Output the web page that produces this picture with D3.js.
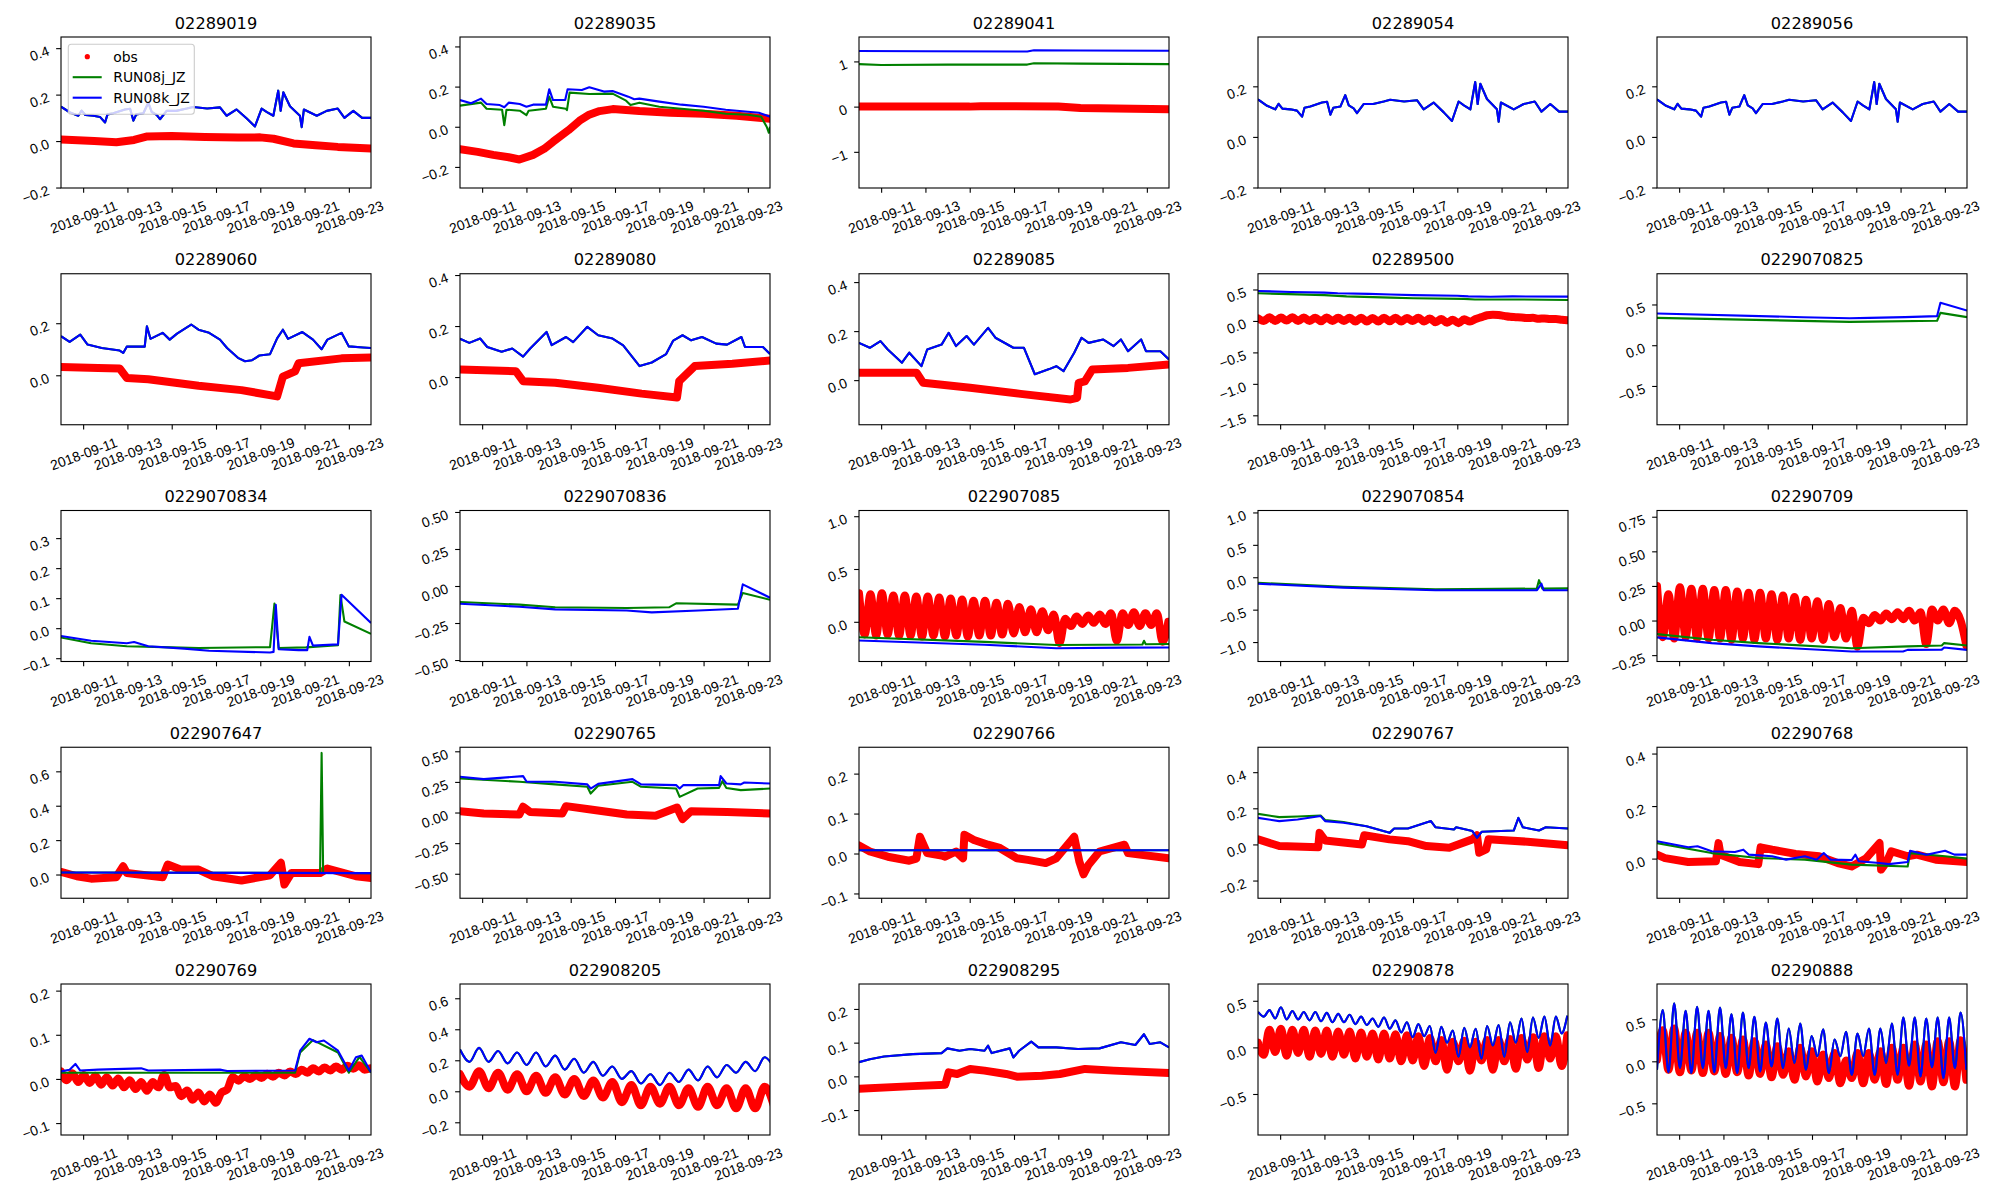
<!DOCTYPE html>
<html>
<head>
<meta charset="utf-8">
<script src="https://cdn.jsdelivr.net/npm/d3@7"></script>
<style>
  body { margin: 0; background: #fff; }
  svg { display: block; font-family: "DejaVu Sans", sans-serif; }
</style>
</head>
<body>
<svg id="chart" width="2000" height="1200"></svg>
<script>
// ── Time axis ───────────────────────────────────────────────────────
const START = Date.UTC(2018, 8, 10);   // 2018-09-10 00:00, left edge of every panel
const DAYS = 14;
const TIDE_STEP = 0.2587;              // half of a 12.42 h tide, in days
const X_TICKS = ['2018-09-11', '2018-09-13', '2018-09-15', '2018-09-17', '2018-09-19', '2018-09-21', '2018-09-23'];

// ── Panels ──────────────────────────────────────────────────────────
const STATIONS = [
  '02289019', '02289035', '02289041', '02289054', '02289056',
  '02289060', '02289080', '02289085', '02289500', '0229070825',
  '0229070834', '0229070836', '022907085', '0229070854', '02290709',
  '022907647', '02290765', '02290766', '02290767', '02290768',
  '02290769', '022908205', '022908295', '02290878', '02290888'
];

const Y_DOMAINS = [
  [-0.202, 0.448], [-0.305, 0.447], [-1.8, 1.54], [-0.202, 0.395], [-0.202, 0.395],
  [-0.19, 0.39], [-0.187, 0.405], [-0.182, 0.434], [-1.65, 0.75], [-0.976, 0.877],
  [-0.111, 0.392], [-0.51, 0.51], [-0.376, 1.054], [-1.3, 1.03], [-0.296, 0.795],
  [-0.138, 0.74], [-0.70, 0.533], [-0.112, 0.266], [-0.298, 0.538], [-0.151, 0.424],
  [-0.127, 0.215], [-0.282, 0.692], [-0.174, 0.274], [-0.94, 0.68], [-0.877, 0.92]
];

const Y_TICKS = [
  ['−0.2', '0.0', '0.2', '0.4'], ['−0.2', '0.0', '0.2', '0.4'], ['−1', '0', '1'], ['−0.2', '0.0', '0.2'], ['−0.2', '0.0', '0.2'],
  ['0.0', '0.2'], ['0.0', '0.2', '0.4'], ['0.0', '0.2', '0.4'], ['−1.5', '−1.0', '−0.5', '0.0', '0.5'], ['−0.5', '0.0', '0.5'],
  ['−0.1', '0.0', '0.1', '0.2', '0.3'], ['−0.50', '−0.25', '0.00', '0.25', '0.50'], ['0.0', '0.5', '1.0'], ['−1.0', '−0.5', '0.0', '0.5', '1.0'], ['−0.25', '0.00', '0.25', '0.50', '0.75'],
  ['0.0', '0.2', '0.4', '0.6'], ['−0.50', '−0.25', '0.00', '0.25', '0.50'], ['−0.1', '0.0', '0.1', '0.2'], ['−0.2', '0.0', '0.2', '0.4'], ['0.0', '0.2', '0.4'],
  ['−0.1', '0.0', '0.1', '0.2'], ['−0.2', '0.0', '0.2', '0.4', '0.6'], ['−0.1', '0.0', '0.1', '0.2'], ['−0.5', '0.0', '0.5'], ['−0.5', '0.0', '0.5']
];

const SERIES_NAMES = ['obs', 'RUN08j_JZ', 'RUN08k_JZ'];
const SERIES_COLORS = ['#ff0000', '#008000', '#0000ff'];

// tidal records are read as alternating highs and lows, one every `step` days
function tide(step, vals) {
  const pts = vals.map((v, i) => [i * step, v]);
  pts.smooth = true;
  return pts;
}

// ── Series: [day since 09-10, value] ────────────────────────────────
// row 1
const OBS_02289019 = [[0,0.007],[1.5,0.0],[2.5,-0.005],[3.3,0.005],[3.9,0.02],[5,0.022],[6.5,0.018],[8,0.015],[9,0.016],[9.6,0.01],[10.5,-0.01],[11.5,-0.018],[12.5,-0.025],[14,-0.032]];
const K_02289019 = [[0,0.148],[0.41,0.123],[0.78,0.109],[0.93,0.131],[1.1,0.112],[1.46,0.109],[1.76,0.104],[1.99,0.08],[2.1,0.115],[2.36,0.12],[2.89,0.136],[3.12,0.139],[3.27,0.088],[3.4,0.115],[3.72,0.12],[3.94,0.165],[4.1,0.125],[4.32,0.113],[4.47,0.094],[4.77,0.13],[5.2,0.13],[5.68,0.14],[5.97,0.147],[6.6,0.14],[7.18,0.145],[7.48,0.109],[7.93,0.136],[8.39,0.097],[8.76,0.063],[9.06,0.14],[9.3,0.125],[9.59,0.109],[9.81,0.217],[9.92,0.13],[10.04,0.21],[10.34,0.15],[10.79,0.109],[10.87,0.06],[10.97,0.136],[11.55,0.109],[12,0.13],[12.5,0.14],[12.8,0.1],[13.2,0.13],[13.6,0.1],[14,0.1]];
const J_02289019 = K_02289019;   // the two runs overlap here

const OBS_02289035 = [[0,-0.112],[0.8,-0.125],[1.5,-0.14],[2.2,-0.152],[2.68,-0.163],[3.3,-0.14],[3.8,-0.11],[4.2,-0.075],[4.9,-0.017],[5.4,0.03],[5.8,0.058],[6.3,0.078],[6.9,0.088],[8.1,0.078],[9.5,0.07],[11,0.065],[12.5,0.055],[14,0.04]];
const K_02289035 = [[0,0.133],[0.5,0.117],[0.95,0.14],[1.2,0.113],[1.8,0.108],[2.0,0.097],[2.2,0.12],[2.7,0.113],[3.0,0.1],[3.3,0.11],[3.88,0.11],[4.03,0.187],[4.2,0.133],[4.75,0.133],[4.86,0.187],[5.5,0.183],[5.84,0.197],[6.5,0.175],[6.89,0.178],[7.6,0.15],[7.87,0.137],[8.1,0.14],[9,0.125],[10,0.11],[11,0.1],[12,0.085],[12.5,0.08],[13,0.075],[13.5,0.07],[14,0.05]];
const J_02289035 = [[0,0.105],[0.95,0.12],[1.2,0.09],[1.9,0.085],[2.0,0.008],[2.1,0.085],[2.7,0.08],[3.0,0.058],[3.1,0.08],[3.88,0.09],[4.03,0.15],[4.2,0.1],[4.78,0.09],[4.83,0.083],[4.95,0.17],[5.84,0.163],[6.89,0.165],[7.5,0.13],[7.7,0.108],[8.1,0.12],[9,0.1],[10,0.09],[11,0.08],[12,0.065],[13,0.06],[13.6,0.05],[13.85,0.0],[13.95,-0.03],[14,0.0]];

const OBS_02289041 = [[0,0.0],[5,0.0],[5.5,0.01],[9,0.005],[10,-0.03],[14,-0.06]];
const K_02289041 = [[0,1.23],[3,1.225],[7.6,1.22],[7.9,1.245],[10,1.24],[14,1.235]];
const J_02289041 = [[0,0.94],[1,0.92],[4,0.93],[7.6,0.93],[7.9,0.96],[10,0.95],[14,0.94]];

const K_02289054 = K_02289019;   // reads the same as 02289019
const K_02289056 = K_02289019;

// row 2
const OBS_02289060 = [[0,0.032],[1.68,0.028],[2.65,0.026],[2.97,-0.01],[3.94,-0.015],[6.21,-0.04],[8.15,-0.057],[9.76,-0.081],[10.02,-0.005],[10.57,0.015],[10.73,0.046],[12.67,0.065],[14,0.068]];
const K_02289060 = [[0,0.15],[0.39,0.128],[0.87,0.156],[1.2,0.118],[1.84,0.105],[2.65,0.095],[2.81,0.086],[2.97,0.11],[3.78,0.11],[3.88,0.188],[4.04,0.14],[4.59,0.163],[4.91,0.137],[5.24,0.16],[5.88,0.195],[6.21,0.175],[6.69,0.163],[7.18,0.137],[7.5,0.105],[7.99,0.067],[8.31,0.054],[8.63,0.058],[8.96,0.076],[9.44,0.081],[9.76,0.142],[10.02,0.175],[10.25,0.14],[10.9,0.166],[11.38,0.137],[11.77,0.1],[12.03,0.137],[12.67,0.163],[13.0,0.111],[13.64,0.107],[14,0.105]];

const OBS_02289080 = [[0,0.03],[2.52,0.023],[2.85,-0.016],[4.3,-0.022],[6.24,-0.042],[8.2,-0.065],[9.8,-0.08],[9.9,-0.016],[10.6,0.043],[12.3,0.052],[14,0.065]];
const K_02289080 = [[0,0.15],[0.42,0.134],[0.91,0.151],[1.23,0.118],[1.88,0.099],[2.36,0.112],[2.85,0.08],[3.17,0.112],[3.91,0.177],[4.14,0.125],[4.79,0.157],[5.11,0.137],[5.75,0.197],[6.24,0.164],[6.89,0.151],[7.37,0.124],[8.11,0.043],[8.66,0.057],[9.31,0.09],[9.63,0.143],[10.05,0.164],[10.44,0.144],[10.93,0.157],[11.57,0.131],[12.06,0.127],[12.71,0.157],[12.87,0.118],[13.68,0.118],[14,0.09]];

const OBS_02289085 = [[0,0.03],[2.6,0.03],[2.9,-0.011],[5.02,-0.031],[7.3,-0.056],[9.55,-0.079],[9.85,-0.072],[9.92,-0.011],[10.2,-0.005],[10.53,0.043],[12.15,0.05],[14,0.064]];
const K_02289085 = [[0,0.152],[0.49,0.132],[0.97,0.159],[1.3,0.125],[1.94,0.071],[2.27,0.112],[2.82,0.057],[3.08,0.125],[3.73,0.145],[4.05,0.193],[4.38,0.139],[4.86,0.18],[5.19,0.145],[5.83,0.213],[6.16,0.173],[6.97,0.132],[7.45,0.132],[7.94,0.024],[8.59,0.045],[8.91,0.057],[9.24,0.037],[9.72,0.112],[10.05,0.173],[10.37,0.152],[11.02,0.166],[11.5,0.139],[11.83,0.166],[12.15,0.118],[12.74,0.166],[12.96,0.118],[13.61,0.118],[14,0.084]];

const OBS_02289500 = tide(TIDE_STEP, [0.04,0.0,0.06,0.0,0.055,0.005,0.06,0.0,0.055,0.0,0.05,-0.005,0.055,0.0,0.05,0.0,0.05,-0.01,0.05,-0.01,0.045,-0.01,0.05,-0.005,0.05,-0.01,0.045,0.0,0.05,-0.01,0.04,-0.02,0.03,-0.03,0.02,-0.035,0.025,-0.01,0.03,0.06,0.09,0.1,0.095,0.08,0.065,0.06,0.055,0.045,0.05,0.035,0.04,0.03,0.03,0.02,0.01]);
const K_02289500 = [[0,0.476],[1.5,0.46],[3,0.45],[3.6,0.44],[5,0.43],[6,0.42],[7,0.41],[9,0.4],[9.5,0.39],[10.5,0.385],[11.5,0.39],[14,0.387]];
const J_02289500 = [[0,0.44],[3,0.41],[4,0.39],[6,0.37],[7,0.36],[9.3,0.35],[9.8,0.34],[12,0.34],[14,0.333]];

const K_0229070825 = [[0,0.389],[6.6,0.344],[8.7,0.33],[9.6,0.335],[11.2,0.345],[12.65,0.357],[12.8,0.52],[14,0.425]];
const J_0229070825 = [[0,0.336],[8.7,0.287],[9.6,0.29],[12.65,0.30],[12.8,0.397],[14,0.344]];

// row 3
const K_0229070834 = [[0,-0.026],[1.36,-0.042],[2.97,-0.05],[3.3,-0.046],[3.94,-0.06],[5.56,-0.068],[6.69,-0.075],[9.44,-0.081],[9.6,-0.079],[9.7,0.078],[9.83,-0.07],[10.73,-0.073],[11.12,-0.073],[11.22,-0.029],[11.38,-0.058],[12.51,-0.054],[12.67,0.111],[14,0.017]];
const J_0229070834 = [[0,-0.031],[1.36,-0.05],[2.97,-0.06],[4.59,-0.063],[6.21,-0.066],[9.44,-0.063],[9.64,0.082],[9.83,-0.066],[11.06,-0.064],[12.51,-0.057],[12.62,0.11],[12.8,0.022],[14,-0.019]];

const K_0229070836 = [[0,-0.12],[2.68,-0.14],[4.3,-0.158],[7.53,-0.166],[8.66,-0.178],[10.77,-0.166],[12.55,-0.154],[12.77,0.011],[14,-0.079]];
const J_0229070836 = [[0,-0.108],[2.68,-0.126],[4.3,-0.144],[7.53,-0.149],[9.44,-0.144],[9.76,-0.117],[12.55,-0.126],[12.77,-0.047],[14,-0.093]];

const OBS_022907085 = tide(TIDE_STEP, [0.27,-0.12,0.26,-0.13,0.27,-0.12,0.25,-0.13,0.25,-0.13,0.24,-0.14,0.24,-0.13,0.23,-0.14,0.22,-0.13,0.21,-0.14,0.2,-0.13,0.2,-0.13,0.18,-0.12,0.17,-0.11,0.14,-0.1,0.12,-0.1,0.1,-0.08,0.07,-0.2,0.03,-0.04,0.05,-0.02,0.06,-0.01,0.07,-0.02,0.08,-0.18,0.08,-0.03,0.09,-0.04,0.08,-0.03,0.08,-0.19,0.0]);
const K_022907085 = [[0,-0.177],[5.67,-0.218],[8.91,-0.25],[12,-0.245],[14,-0.243]];
const J_022907085 = [[0,-0.146],[5.67,-0.19],[8.91,-0.22],[12.8,-0.215],[12.87,-0.18],[12.95,-0.212],[14,-0.21]];

const K_0229070854 = [[0,-0.1],[3.86,-0.16],[8.02,-0.2],[12.6,-0.2],[12.8,-0.1],[12.9,-0.2],[14,-0.2]];
const J_0229070854 = [[0,-0.086],[3.86,-0.147],[8.02,-0.187],[12.59,-0.175],[12.69,-0.045],[12.84,-0.175],[14,-0.172]];

const OBS_02290709 = tide(TIDE_STEP, [0.25,-0.12,0.19,-0.13,0.24,-0.12,0.23,-0.13,0.23,-0.13,0.22,-0.13,0.22,-0.14,0.21,-0.13,0.2,-0.14,0.2,-0.13,0.19,-0.14,0.18,-0.13,0.17,-0.14,0.15,-0.13,0.14,-0.14,0.12,-0.12,0.09,-0.13,0.07,-0.19,0.02,-0.02,0.04,0.0,0.05,0.01,0.06,0.01,0.07,0.0,0.06,-0.17,0.08,0.0,0.08,-0.02,0.07,0.0,-0.18]);
const K_02290709 = [[0,-0.122],[2.47,-0.163],[4.58,-0.187],[8.79,-0.224],[11.11,-0.224],[11.32,-0.212],[12.86,-0.21],[12.97,-0.195],[14,-0.212]];
const J_02290709 = [[0,-0.098],[2.47,-0.139],[4.58,-0.163],[8.79,-0.2],[11.32,-0.187],[12.86,-0.18],[12.97,-0.163],[14,-0.18]];

// row 4
const OBS_022907647 = [[0,0.015],[0.71,-0.01],[1.36,-0.024],[2.49,-0.016],[2.81,0.048],[2.97,0.009],[4.59,-0.016],[4.82,0.058],[5.4,0.029],[6.21,0.029],[6.85,-0.01],[8.15,-0.035],[9.44,-0.004],[9.93,0.068],[10.09,-0.058],[10.41,0.009],[11.7,0.009],[12.03,0.035],[13.32,-0.01],[14,-0.02]];
const K_022907647 = [[0,0.012],[14,0.008]];
const J_022907647 = [[0,0.012],[11.7,0.009],[11.77,0.707],[11.84,0.009],[14,0.008]];

const OBS_02290765 = [[0,0.011],[1.07,-0.008],[2.68,-0.016],[2.85,0.047],[3.17,0.005],[4.62,-0.008],[4.79,0.052],[5.9,0.025],[7.53,-0.016],[8.83,-0.027],[9.8,0.041],[10.05,-0.054],[10.44,0.011],[12.06,0.005],[14,-0.008]];
const K_02290765 = [[0,0.292],[1.07,0.273],[2.85,0.297],[3.01,0.251],[4.3,0.251],[5.75,0.23],[5.9,0.196],[6.24,0.234],[7.79,0.273],[8.18,0.23],[9.76,0.224],[9.92,0.196],[10.09,0.224],[11.7,0.224],[11.77,0.297],[12.03,0.237],[12.68,0.23],[12.84,0.245],[14,0.237]];
const J_02290765 = [[0,0.278],[2.68,0.251],[4.3,0.23],[5.75,0.21],[5.9,0.155],[6.24,0.218],[7.79,0.251],[8.18,0.21],[9.76,0.196],[9.92,0.128],[10.73,0.196],[11.7,0.201],[11.85,0.256],[12.03,0.2],[12.68,0.183],[14,0.196]];

const OBS_02290766 = [[0,0.02],[0.49,0.005],[1.3,-0.008],[2.27,-0.018],[2.59,-0.013],[2.75,0.042],[3.08,0.001],[3.73,-0.005],[3.89,-0.008],[4.38,0.005],[4.7,-0.012],[4.76,0.047],[5.19,0.034],[5.83,0.022],[6.32,0.015],[7.13,-0.012],[7.62,-0.016],[8.43,-0.024],[8.91,-0.012],[9.72,0.042],[9.95,-0.02],[10.14,-0.052],[10.37,-0.028],[10.86,0.005],[11.99,0.022],[12.15,0.001],[14,-0.012]];
const K_02290766 = [[0,0.008],[14,0.008]];

const OBS_02290767 = [[0,0.028],[0.96,-0.009],[2.72,-0.015],[2.78,0.064],[3.03,0.022],[4.69,0.0],[4.8,0.051],[5.94,0.028],[6.77,0.018],[7.6,-0.009],[8.64,-0.018],[9.68,0.028],[9.89,0.051],[9.99,-0.046],[10.3,-0.028],[10.41,0.028],[12.17,0.015],[14,-0.004]];
const K_02290767 = [[0,0.147],[0.96,0.129],[1.79,0.138],[2.83,0.157],[3.03,0.129],[3.86,0.12],[4.9,0.101],[5.94,0.064],[6.15,0.088],[6.77,0.088],[7.81,0.129],[8.02,0.095],[8.85,0.083],[8.95,0.095],[9.68,0.074],[9.89,0.037],[10.1,0.07],[11.55,0.077],[11.76,0.147],[11.96,0.095],[12.69,0.077],[13.0,0.095],[14,0.088]];
const J_02290767 = [[0,0.169],[0.96,0.151],[1.79,0.155],[2.83,0.16],[3.03,0.135],[3.86,0.124],[4.9,0.101],[5.94,0.064],[6.15,0.088],[6.77,0.088],[7.81,0.129],[8.02,0.095],[8.85,0.083],[8.95,0.095],[9.68,0.074],[9.89,0.037],[10.1,0.07],[11.55,0.077],[11.76,0.147],[11.96,0.095],[12.69,0.077],[13.0,0.095],[14,0.088]];

const OBS_02290768 = [[0,0.015],[0.36,0.002],[1.41,-0.013],[2.66,-0.01],[2.78,0.059],[2.87,0.015],[3.73,-0.013],[4.57,-0.021],[4.68,0.043],[5.2,0.034],[6.26,0.018],[7.32,0.009],[8.16,-0.017],[8.79,-0.03],[9.43,0.0],[10.05,0.059],[10.12,-0.042],[10.37,-0.013],[10.58,0.028],[11.32,0.009],[11.74,0.015],[12.59,-0.004],[14,-0.013]];
const K_02290768 = [[0,0.066],[1.41,0.043],[1.83,0.047],[2.47,0.028],[3.52,0.025],[3.9,0.034],[4.15,0.015],[5.2,0.009],[5.83,-0.004],[6.68,0.009],[7.21,-0.004],[7.53,0.021],[7.84,-0.004],[8.79,-0.006],[8.96,0.015],[9.11,-0.01],[10.05,-0.017],[10.47,-0.021],[11.32,-0.013],[11.43,0.03],[12.17,0.015],[13.01,0.03],[13.43,0.015],[14,0.015]];
const J_02290768 = [[0,0.059],[2.47,0.021],[4.57,0.002],[6.68,-0.004],[8.79,-0.023],[11.32,-0.03],[11.43,0.021],[13.01,0.009],[14,0.0]];

// row 5
const OBS_02290769 = tide(TIDE_STEP, [0.017,-0.003,0.013,-0.007,0.009,-0.009,0.007,-0.013,0.004,-0.015,0.001,-0.019,-0.003,-0.023,-0.007,-0.027,-0.007,-0.019,0.009,-0.019,-0.016,-0.039,-0.026,-0.047,-0.031,-0.051,-0.035,-0.054,-0.031,-0.024,0.004,-0.004,0.006,0.0,0.009,0.002,0.012,0.005,0.014,0.008,0.017,0.011,0.021,0.014,0.024,0.017,0.026,0.019,0.028,0.021,0.03,0.023,0.031,0.021,0.024]);
const K_02290769 = [[0,0.017],[0.39,0.021],[0.65,0.034],[0.87,0.019],[1.68,0.021],[3.62,0.024],[3.94,0.019],[7.18,0.021],[7.5,0.018],[10.57,0.019],[10.8,0.064],[11.22,0.091],[11.54,0.083],[11.87,0.087],[12.51,0.064],[13.0,0.019],[13.32,0.049],[13.58,0.053],[14,0.015]];
const J_02290769 = [[0,0.014],[10.57,0.014],[10.8,0.06],[11.38,0.088],[12.51,0.06],[13.0,0.014],[13.48,0.05],[14,0.014]];

const OBS_022908205 = tide(0.43, [0.11,0.03,0.13,0.02,0.12,0.01,0.11,0.0,0.1,-0.01,0.09,-0.02,0.08,-0.03,0.07,-0.04,0.06,-0.07,0.04,-0.09,0.03,-0.08,0.03,-0.09,0.02,-0.1,0.03,-0.09,0.02,-0.11,0.02,-0.11,0.03,-0.1]);
const K_022908205 = tide(0.43, [0.27,0.19,0.28,0.19,0.26,0.18,0.25,0.17,0.25,0.16,0.23,0.14,0.21,0.12,0.19,0.1,0.16,0.08,0.13,0.05,0.11,0.04,0.12,0.06,0.14,0.07,0.16,0.09,0.17,0.12,0.19,0.13,0.22,0.15]);

const OBS_022908295 = [[0,-0.037],[2.43,-0.029],[3.89,-0.025],[4.05,0.012],[4.43,0.007],[5.02,0.022],[5.67,0.017],[6.64,0.007],[7.13,-0.001],[8.26,0.002],[9.07,0.007],[10.21,0.022],[11.5,0.017],[14,0.01]];
const K_022908295 = [[0,0.042],[0.49,0.051],[1.13,0.059],[2.43,0.066],[3.73,0.069],[3.99,0.083],[4.54,0.076],[5.02,0.081],[5.67,0.076],[5.83,0.091],[5.99,0.069],[6.81,0.083],[6.97,0.056],[7.23,0.076],[7.78,0.103],[8.1,0.086],[8.91,0.086],[9.89,0.081],[10.86,0.083],[11.83,0.101],[12.48,0.093],[12.87,0.125],[13.13,0.096],[13.61,0.101],[14,0.086]];

const OBS_02290878 = tide(TIDE_STEP, [0.05,-0.08,0.19,-0.05,0.2,-0.09,0.19,-0.06,0.19,-0.1,0.18,-0.07,0.18,-0.1,0.17,-0.08,0.17,-0.12,0.16,-0.1,0.15,-0.13,0.15,-0.12,0.14,-0.15,0.13,-0.14,0.12,-0.2,0.1,-0.15,0.08,-0.24,0.06,-0.15,0.07,-0.25,0.06,-0.14,0.08,-0.24,0.08,-0.15,0.09,-0.23,0.1,-0.13,0.11,-0.22,0.12,-0.12,0.12,-0.2,0.13]);
const K_02290878 = tide(TIDE_STEP, [0.38,0.33,0.40,0.31,0.43,0.30,0.39,0.30,0.38,0.29,0.38,0.28,0.37,0.27,0.36,0.27,0.35,0.25,0.33,0.24,0.31,0.22,0.32,0.2,0.29,0.16,0.27,0.11,0.25,0.12,0.23,-0.06,0.22,0.05,0.18,-0.1,0.21,0.0,0.2,-0.12,0.23,0.02,0.24,-0.1,0.27,0.05,0.31,-0.05,0.32,0.1,0.33,0.02,0.33,0.15,0.34]);

const OBS_02290888 = tide(TIDE_STEP, [0.02,0.37,-0.1,0.39,-0.13,0.34,-0.11,0.34,-0.14,0.34,-0.12,0.3,-0.15,0.28,-0.13,0.26,-0.17,0.24,-0.15,0.2,-0.19,0.18,-0.16,0.12,-0.22,0.16,-0.18,0.12,-0.24,0.08,-0.2,0.1,-0.26,0.01,-0.2,0.1,-0.26,0.1,-0.22,0.12,-0.27,0.16,-0.22,0.16,-0.29,0.2,-0.24,0.2,-0.3,0.24,-0.25,0.24,-0.3,0.25,-0.22]);
const K_02290888 = tide(TIDE_STEP, [-0.1,0.61,-0.13,0.69,-0.08,0.6,-0.14,0.65,-0.08,0.6,-0.13,0.64,-0.08,0.56,-0.14,0.58,-0.08,0.53,-0.12,0.46,-0.06,0.51,-0.08,0.39,-0.02,0.45,-0.1,0.3,0.06,0.38,-0.14,0.26,0.06,0.35,-0.16,0.33,0.06,0.39,-0.16,0.39,-0.02,0.45,-0.16,0.52,-0.05,0.52,-0.18,0.51,-0.07,0.52,-0.2,0.52,-0.08,0.58,-0.1]);

// [obs, RUN08j_JZ, RUN08k_JZ] per panel, in STATIONS order
const PANEL_SERIES = [
  [OBS_02289019, J_02289019, K_02289019],
  [OBS_02289035, J_02289035, K_02289035],
  [OBS_02289041, J_02289041, K_02289041],
  [null, K_02289054, K_02289054],
  [null, K_02289056, K_02289056],
  [OBS_02289060, K_02289060, K_02289060],
  [OBS_02289080, K_02289080, K_02289080],
  [OBS_02289085, K_02289085, K_02289085],
  [OBS_02289500, J_02289500, K_02289500],
  [null, J_0229070825, K_0229070825],
  [null, J_0229070834, K_0229070834],
  [null, J_0229070836, K_0229070836],
  [OBS_022907085, J_022907085, K_022907085],
  [null, J_0229070854, K_0229070854],
  [OBS_02290709, J_02290709, K_02290709],
  [OBS_022907647, J_022907647, K_022907647],
  [OBS_02290765, J_02290765, K_02290765],
  [OBS_02290766, K_02290766, K_02290766],
  [OBS_02290767, J_02290767, K_02290767],
  [OBS_02290768, J_02290768, K_02290768],
  [OBS_02290769, J_02290769, K_02290769],
  [OBS_022908205, K_022908205, K_022908205],
  [OBS_022908295, K_022908295, K_022908295],
  [OBS_02290878, K_02290878, K_02290878],
  [OBS_02290888, K_02290888, K_02290888]
];

// ── Layout ──────────────────────────────────────────────────────────
const COL_X = 61, COL_STEP = 399, ROW_Y = 37, ROW_STEP = 236.75;
const PW = 310, PH = 151;
const TICK = 4.86;

const svg = d3.select('#chart');
svg.append('rect').attr('width', 2000).attr('height', 1200).attr('fill', '#fff');

const toDate = t => new Date(START + t * 864e5);
const xTickDates = X_TICKS.map(s => new Date(s + 'T00:00:00Z'));
const parseTick = s => +s.replace('−', '-');

STATIONS.forEach((name, i) => {
  const left = COL_X + (i % 5) * COL_STEP;
  const top = ROW_Y + Math.floor(i / 5) * ROW_STEP;

  const x = d3.scaleUtc().domain([toDate(0), toDate(DAYS)]).range([left, left + PW]);
  const y = d3.scaleLinear().domain(Y_DOMAINS[i]).range([top + PH, top]);

  const g = svg.append('g');

  g.append('clipPath').attr('id', 'clip' + i)
    .append('rect').attr('x', left).attr('y', top).attr('width', PW).attr('height', PH);

  // series: obs first, then the two runs, blue on top
  const plot = g.append('g').attr('clip-path', `url(#clip${i})`);
  PANEL_SERIES[i].forEach((pts, s) => {
    if (!pts) return;
    const line = d3.line()
      .x(d => x(toDate(d[0])))
      .y(d => y(d[1]))
      .curve(pts.smooth ? d3.curveMonotoneX : d3.curveLinear);
    plot.append('path')
      .attr('d', line(pts))
      .attr('fill', 'none')
      .attr('stroke', SERIES_COLORS[s])
      .attr('stroke-width', s === 0 ? 8 : 2.1)
      .attr('stroke-linejoin', 'round')
      .attr('stroke-linecap', s === 0 ? 'round' : 'butt');
  });

  // x axis
  const xAxis = g.append('g')
    .attr('transform', `translate(0,${top + PH})`)
    .call(d3.axisBottom(x).tickValues(xTickDates).tickFormat(d3.utcFormat('%Y-%m-%d')).tickSize(TICK).tickSizeOuter(0));
  xAxis.select('.domain').remove();
  xAxis.selectAll('line').attr('stroke', '#000').attr('stroke-width', 1.1);
  xAxis.selectAll('text')
    .attr('y', null).attr('dy', null)
    .attr('fill', '#000')
    .style('font-size', '13.9px')
    .attr('dominant-baseline', 'central')
    .attr('transform', 'translate(0,29) rotate(-20)');

  // y axis
  const labels = Y_TICKS[i];
  const yAxis = g.append('g')
    .attr('transform', `translate(${left},0)`)
    .call(d3.axisLeft(y).tickValues(labels.map(parseTick)).tickFormat((d, k) => labels[k]).tickSize(TICK).tickSizeOuter(0));
  yAxis.select('.domain').remove();
  yAxis.selectAll('line').attr('stroke', '#000').attr('stroke-width', 1.1);
  yAxis.selectAll('text')
    .attr('x', null).attr('dy', null)
    .attr('fill', '#000')
    .style('font-size', '13.9px')
    .attr('dominant-baseline', 'central')
    .attr('transform', 'translate(-12.5,1.5) rotate(-20)');

  // spines
  g.append('rect')
    .attr('x', left).attr('y', top).attr('width', PW).attr('height', PH)
    .attr('fill', 'none').attr('stroke', '#000').attr('stroke-width', 1.1);

  // title
  g.append('text')
    .attr('x', left + PW / 2).attr('y', top - 8.3)
    .attr('text-anchor', 'middle')
    .style('font-size', '16.2px')
    .text(name);

  if (i === 0) drawLegend(g, left, top);
});

// ── Legend (first panel only) ───────────────────────────────────────
function drawLegend(g, left, top) {
  const lg = g.append('g');
  lg.append('rect')
    .attr('x', left + 7.3).attr('y', top + 7.3)
    .attr('width', 126).attr('height', 70)
    .attr('rx', 3)
    .attr('fill', '#fff').attr('fill-opacity', 0.8)
    .attr('stroke', '#cccccc').attr('stroke-width', 1.1);

  SERIES_NAMES.forEach((label, s) => {
    const cy = top + 19.7 + s * 20.5;
    if (s === 0) {
      lg.append('circle').attr('cx', left + 26.3).attr('cy', cy).attr('r', 2.6).attr('fill', SERIES_COLORS[s]);
    } else {
      lg.append('line')
        .attr('x1', left + 11.7).attr('x2', left + 40.7)
        .attr('y1', cy).attr('y2', cy)
        .attr('stroke', SERIES_COLORS[s]).attr('stroke-width', 2.1);
    }
    lg.append('text')
      .attr('x', left + 52.3).attr('y', cy)
      .attr('dominant-baseline', 'central')
      .style('font-size', '13.9px')
      .text(label);
  });
}
</script>
</body>
</html>
